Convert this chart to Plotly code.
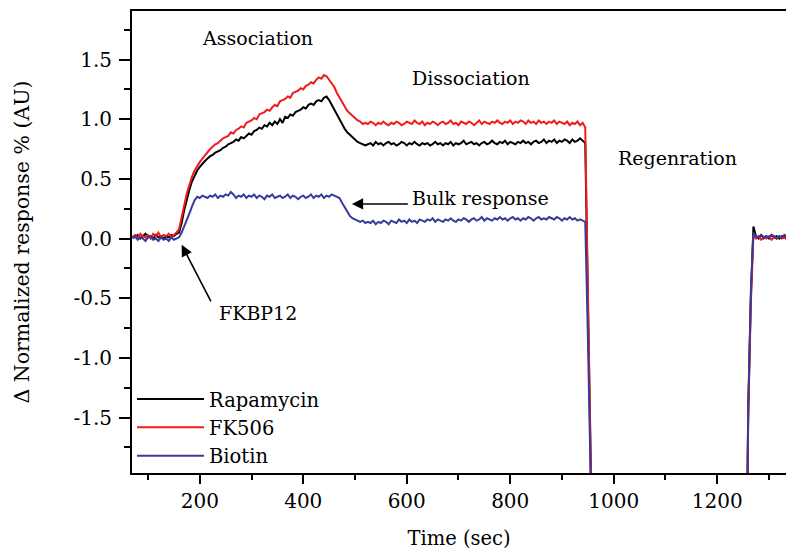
import plotly.graph_objects as go

# Time grid (sec): measured run, the regeneration dip (960-1255) is off-scale
time = list(range(70, 961, 5)) + list(range(1255, 1351, 5))

rapamycin = [
    0.02, 0.01, 0.03, 0.00, 0.02, 0.04, 0.01, 0.02, 0.00, 0.03, 0.01, 0.02, 0.00, 0.02, 0.01, 0.03, 0.02, 0.04,
    0.05, 0.13, 0.24, 0.33, 0.41, 0.48, 0.53, 0.57, 0.60, 0.63, 0.65, 0.67, 0.69, 0.70, 0.72, 0.73, 0.74,
    0.76, 0.77, 0.79, 0.80, 0.81, 0.83, 0.82, 0.85, 0.84, 0.86, 0.88, 0.87, 0.90, 0.91, 0.93, 0.92, 0.95, 0.94, 0.97, 0.95,
    0.98, 0.96, 1.00, 0.97, 1.02, 1.01, 1.04, 1.03, 1.06, 1.07, 1.08, 1.10, 1.09, 1.12, 1.13, 1.12, 1.15, 1.16, 1.15, 1.18,
    1.19, 1.16, 1.12, 1.08, 1.03, 1.00, 0.96, 0.92, 0.89, 0.87, 0.85, 0.83, 0.81, 0.80, 0.79, 0.78,
    0.79, 0.80, 0.78, 0.81, 0.79, 0.80, 0.78, 0.80, 0.81, 0.79,
    0.80, 0.78, 0.79, 0.81, 0.80, 0.78, 0.80, 0.79, 0.81, 0.79,
    0.78, 0.80, 0.79, 0.80, 0.78, 0.79, 0.81, 0.79, 0.80, 0.78,
    0.80, 0.79, 0.81, 0.78, 0.80, 0.79, 0.80, 0.82, 0.79, 0.80,
    0.81, 0.79, 0.80, 0.78, 0.80, 0.81, 0.79, 0.80, 0.82, 0.80,
    0.79, 0.81, 0.80, 0.82, 0.79, 0.81, 0.80, 0.79, 0.81, 0.80,
    0.82, 0.80, 0.81, 0.79, 0.81, 0.82, 0.80, 0.81, 0.83, 0.80,
    0.82, 0.81, 0.83, 0.80, 0.82, 0.81, 0.83, 0.82, 0.80, 0.83,
    0.81, 0.82, 0.84, 0.82,
    0.80, -0.50, -1.95, -3.00,
    -3.50, -1.45, -0.50, 0.10, 0.02, 0.00, 0.03, 0.01, 0.02, 0.00, 0.03, 0.01, 0.02, 0.00, 0.02, 0.01, 0.03,
    0.01, 0.02, 0.00,
]

fk506 = [
    0.01, 0.03, 0.00, 0.04, 0.02, 0.01, 0.03, 0.00, 0.04, 0.02, 0.05, 0.01, 0.03, 0.02, 0.04, 0.01, 0.03, 0.05,
    0.08, 0.17, 0.28, 0.38, 0.46, 0.52, 0.57, 0.61, 0.64, 0.67, 0.70, 0.72, 0.75, 0.77, 0.79, 0.80, 0.82,
    0.84, 0.85, 0.86, 0.89, 0.88, 0.91, 0.92, 0.94, 0.93, 0.97, 0.98, 0.99, 1.01, 1.00, 1.04, 1.05, 1.06, 1.08, 1.07, 1.10,
    1.12, 1.11, 1.15, 1.16, 1.17, 1.19, 1.18, 1.22, 1.23, 1.24, 1.26, 1.25, 1.28, 1.29, 1.31, 1.30, 1.33, 1.35, 1.34, 1.37,
    1.36, 1.33, 1.31, 1.27, 1.22, 1.18, 1.14, 1.10, 1.07, 1.05, 1.03, 1.01, 0.99, 0.98, 0.96, 0.97,
    0.96, 0.98, 0.97, 0.95, 0.97, 0.96, 0.98, 0.96, 0.95, 0.97,
    0.96, 0.98, 0.97, 0.95, 0.96, 0.98, 0.97, 0.96, 0.99, 0.97,
    0.96, 0.98, 0.95, 0.97, 0.96, 0.98, 0.97, 0.95, 0.97, 0.98,
    0.96, 0.97, 0.99, 0.96, 0.97, 0.95, 0.98, 0.97, 0.96, 0.98,
    0.97, 0.95, 0.97, 0.99, 0.96, 0.98, 0.97, 0.96, 0.98, 0.97,
    0.99, 0.97, 0.96, 0.98, 0.97, 0.99, 0.96, 0.98, 0.97, 0.99,
    0.98, 0.96, 0.99, 0.97, 0.98, 0.96, 0.99, 0.97, 0.98, 0.96,
    0.98, 0.97, 0.99, 0.96, 0.98, 0.97, 0.96, 0.98, 0.95, 0.97,
    0.96, 0.98, 0.95, 0.97,
    0.93, -0.40, -1.90, -3.00,
    -3.50, -1.50, -0.55, 0.03, 0.00, 0.02, -0.01, 0.01, 0.00, 0.02, -0.01, 0.01, 0.00, 0.02, 0.00, 0.01, -0.01,
    0.01, 0.00, 0.02,
]

biotin = [
    0.00, 0.02, -0.01, 0.01, 0.00, -0.02, 0.01, 0.02, -0.01, 0.00, -0.02, 0.01, -0.01, 0.00, -0.02, 0.01, -0.01, 0.00,
    0.01, 0.05, 0.10, 0.15, 0.21, 0.27, 0.32, 0.35, 0.34, 0.36, 0.35, 0.34, 0.36, 0.35, 0.37, 0.34, 0.36,
    0.35, 0.37, 0.36, 0.39, 0.37, 0.34, 0.36, 0.35, 0.37, 0.34, 0.36, 0.35, 0.37, 0.34, 0.36, 0.35, 0.33, 0.36, 0.35, 0.37,
    0.34, 0.35, 0.36, 0.34, 0.35, 0.37, 0.34, 0.36, 0.35, 0.33, 0.35, 0.36, 0.34, 0.35, 0.37, 0.34, 0.36, 0.35, 0.37, 0.34,
    0.36, 0.35, 0.37, 0.36, 0.35, 0.34, 0.30, 0.26, 0.22, 0.19, 0.17, 0.16, 0.15, 0.14, 0.15, 0.13,
    0.14, 0.13, 0.15, 0.12, 0.14, 0.13, 0.15, 0.14, 0.12, 0.15,
    0.14, 0.13, 0.16, 0.14, 0.15, 0.13, 0.16, 0.14, 0.15, 0.13,
    0.16, 0.15, 0.14, 0.16, 0.15, 0.17, 0.14, 0.16, 0.15, 0.14,
    0.16, 0.15, 0.17, 0.15, 0.14, 0.16, 0.15, 0.17, 0.16, 0.14,
    0.16, 0.17, 0.15, 0.16, 0.18, 0.15, 0.17, 0.16, 0.15, 0.17,
    0.16, 0.18, 0.16, 0.17, 0.15, 0.17, 0.18, 0.16, 0.17, 0.15,
    0.17, 0.16, 0.18, 0.17, 0.15, 0.17, 0.18, 0.16, 0.17, 0.16,
    0.18, 0.17, 0.16, 0.18, 0.17, 0.15, 0.17, 0.16, 0.18, 0.16,
    0.17, 0.15, 0.16, 0.15,
    0.14, -0.80, -1.85, -3.00,
    -3.50, -1.40, -0.45, 0.05, 0.02, 0.01, 0.03, 0.00, 0.02, 0.01, 0.03, 0.02, 0.00, 0.02, 0.01, 0.03, 0.02,
    0.01, 0.03, 0.01,
]

series_names = ["Rapamycin", "FK506", "Biotin"]
series_colors = ["#000000", "#f01c1c", "#3a3a9c"]

x_major = [200, 400, 600, 800, 1000, 1200]
x_minor = [100, 300, 500, 700, 900, 1100, 1300]
y_major = [-1.5, -1.0, -0.5, 0.0, 0.5, 1.0, 1.5]
y_major_text = ["-1.5", "-1.0", "-0.5", "0.0", "0.5", "1.0", "1.5"]
y_minor = [-1.75, -1.25, -0.75, -0.25, 0.25, 0.75, 1.25, 1.75]

assert len(rapamycin) == len(time) and len(fk506) == len(time) and len(biotin) == len(time)

FONT = "DejaVu Serif"

fig = go.Figure()
for name, vals, col in zip(series_names, [rapamycin, fk506, biotin], series_colors):
    fig.add_trace(go.Scatter(x=time, y=vals, mode="lines", name=name,
                             line=dict(color=col, width=2)))

tick_font = dict(family=FONT, size=20, color="black")

fig.update_layout(
    width=786, height=550,
    margin=dict(l=132, r=0, t=11, b=77, autoexpand=False),
    paper_bgcolor="white", plot_bgcolor="white",
    font=dict(family=FONT, size=19, color="black"),
    showlegend=True,
    legend=dict(x=0.0, y=-0.006, xanchor="left", yanchor="bottom",
                bgcolor="rgba(0,0,0,0)", borderwidth=0,
                font=dict(family=FONT, size=19.5, color="black"),
                itemwidth=67, tracegroupgap=0),
    xaxis=dict(range=[69, 1333], showgrid=False, zeroline=False,
               showline=True, linecolor="black", linewidth=2, mirror=True,
               ticks="outside", ticklen=9, tickwidth=2, tickcolor="black",
               tickvals=x_major, tickfont=tick_font,
               minor=dict(tickvals=x_minor, ticks="outside", ticklen=5,
                          tickwidth=2, tickcolor="black"),
               title=dict(text="Time (sec)", font=dict(family=FONT, size=19.5),
                          standoff=20)),
    yaxis=dict(range=[-1.965, 1.907], showgrid=False, zeroline=False,
               showline=True, linecolor="black", linewidth=2, mirror=False,
               ticks="outside", ticklen=11, tickwidth=2, tickcolor="black",
               tickvals=y_major, ticktext=y_major_text, tickfont=tick_font,
               ticklabelstandoff=3,
               minor=dict(tickvals=y_minor, ticks="outside", ticklen=6,
                          tickwidth=2, tickcolor="black"),
               title=dict(text="Δ Normalized response % (AU)",
                          font=dict(family=FONT, size=20.5), standoff=38)),
)

ann_font = dict(family=FONT, size=19, color="black")
fig.add_annotation(x=312, y=1.681, text="Association", showarrow=False, font=ann_font)
fig.add_annotation(x=724, y=1.346, text="Dissociation", showarrow=False, font=ann_font)
fig.add_annotation(x=1124, y=0.676, text="Regenration", showarrow=False, font=ann_font)
fig.add_annotation(x=743, y=0.339, text="Bulk response", showarrow=False, font=ann_font)
fig.add_annotation(x=312, y=-0.622, text="FKBP12", showarrow=False, font=ann_font)
# arrows
fig.add_annotation(x=494, y=0.29, ax=605, ay=0.29, axref="x", ayref="y",
                   text="", showarrow=True, arrowhead=2, arrowsize=1.4,
                   arrowwidth=1.6, arrowcolor="black")
fig.add_annotation(x=165, y=-0.053, ax=223, ay=-0.539, axref="x", ayref="y",
                   text="", showarrow=True, arrowhead=2, arrowsize=1.4,
                   arrowwidth=1.6, arrowcolor="black")

fig.write_html(
    "out.html",
    config={"displayModeBar": False},
    post_script="document.body.style.margin='0';document.body.style.overflow='hidden';",
)
